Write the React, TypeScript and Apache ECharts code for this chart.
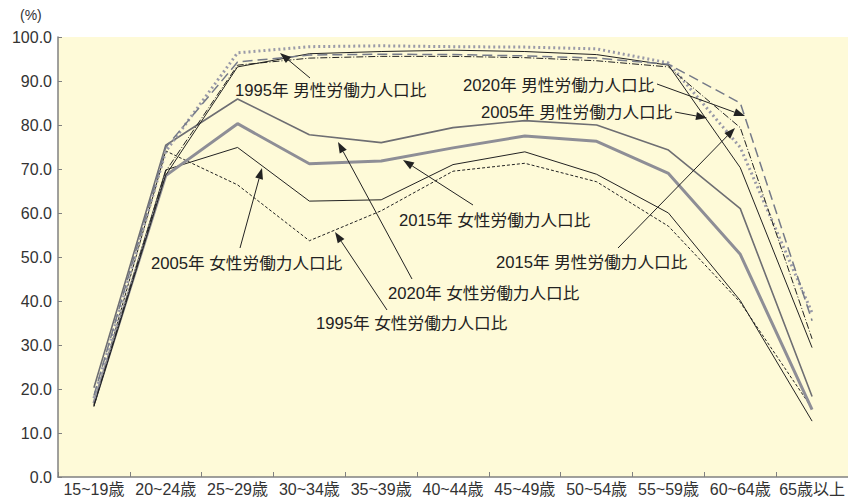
import React, { useEffect, useRef } from "react";
import * as echarts from "echarts";

const categories = ["15~19歳", "20~24歳", "25~29歳", "30~34歳", "35~39歳", "40~44歳", "45~49歳", "50~54歳", "55~59歳", "60~64歳", "65歳以上"];

const male1995 = [17.9, 74.0, 96.4, 97.8, 98.0, 97.8, 97.7, 97.3, 94.1, 74.9, 37.3];
const male2005 = [16.1, 68.6, 93.2, 96.2, 96.7, 97.0, 96.7, 96.0, 93.6, 70.3, 29.4];
const male2015 = [16.3, 69.5, 93.6, 95.2, 95.6, 95.6, 95.3, 94.6, 93.2, 79.4, 31.4];
const male2020 = [18.5, 74.9, 94.3, 95.9, 96.1, 96.0, 95.7, 95.2, 93.8, 85.0, 35.5];
const female1995 = [16.0, 74.1, 66.4, 53.7, 60.5, 69.5, 71.3, 67.1, 57.0, 39.7, 15.6];
const female2005 = [16.5, 69.8, 74.9, 62.7, 63.0, 71.0, 73.9, 68.8, 60.0, 40.1, 12.7];
const female2015 = [16.8, 68.5, 80.3, 71.2, 71.8, 74.8, 77.5, 76.3, 69.0, 50.6, 15.3];
const female2020 = [20.3, 75.4, 85.9, 77.8, 76.0, 79.4, 81.0, 80.0, 74.3, 61.0, 18.3];

const yTicks = [0, 10, 20, 30, 40, 50, 60, 70, 80, 90, 100];

const FONT = "'Liberation Sans', 'Noto Sans CJK JP', sans-serif";

const annotations = [
  { text: "1995年 男性労働力人口比", x: 235, y: 90, from: [310, 78], to: [280, 53] },
  { text: "2020年 男性労働力人口比", x: 463, y: 85, from: [657, 84], to: [745, 116] },
  { text: "2005年 男性労働力人口比", x: 481, y: 112, from: [675, 112], to: [707, 118] },
  { text: "2015年 女性労働力人口比", x: 399, y: 220, from: [473, 205], to: [403, 160] },
  { text: "2015年 男性労働力人口比", x: 496, y: 262, from: [618, 248], to: [735, 128] },
  { text: "2020年 女性労働力人口比", x: 388, y: 293, from: [412, 279], to: [338, 142] },
  { text: "1995年 女性労働力人口比", x: 316, y: 323, from: [387, 310], to: [335, 232] },
  { text: "2005年 女性労働力人口比", x: 151, y: 263, from: [240, 248], to: [262, 168] },
];

function arrow(from: number[], to: number[]) {
  const [x1, y1] = from;
  const [x2, y2] = to;
  const dx = x2 - x1;
  const dy = y2 - y1;
  const len = Math.sqrt(dx * dx + dy * dy);
  const ux = dx / len;
  const uy = dy / len;
  const hl = 11;
  const hw = 4;
  const bx = x2 - ux * hl;
  const by = y2 - uy * hl;
  return [
    {
      type: "line",
      shape: { x1, y1, x2: bx, y2: by },
      style: { stroke: "#222", lineWidth: 1 },
      z: 100,
    },
    {
      type: "polygon",
      shape: {
        points: [
          [x2, y2],
          [bx - uy * hw, by + ux * hw],
          [bx + uy * hw, by - ux * hw],
        ],
      },
      style: { fill: "#222" },
      z: 100,
    },
  ];
}

function mkLine(name: string, data: number[], lineStyle: any, z = 2) {
  return {
    name,
    type: "line",
    data,
    symbol: "none",
    lineStyle,
    z,
  };
}

export default function App() {
  const ref = useRef<HTMLDivElement>(null);
  useEffect(() => {
    if (!ref.current) return;
    const chart = echarts.init(ref.current, null, { renderer: "svg" });
    const graphics: any[] = [
      {
        type: "text",
        x: 20,
        y: 15,
        style: { text: "(%)", fontSize: 14, fontFamily: FONT, fill: "#333", verticalAlign: "middle" },
      },
    ];
    annotations.forEach((a) => {
      graphics.push({
        type: "text",
        x: a.x,
        y: a.y,
        scaleX: 1.04,
        z: 100,
        style: { text: a.text, fontSize: 16, fontFamily: FONT, fill: "#222", verticalAlign: "middle" },
      });
      arrow(a.from, a.to).forEach((g) => graphics.push(g));
    });
    chart.setOption({
      animation: false,
      backgroundColor: "#ffffff",
      grid: {
        left: 58,
        top: 37,
        width: 793,
        height: 440,
        show: true,
        backgroundColor: "#FEFAD8",
        borderWidth: 0,
      },
      xAxis: {
        type: "category",
        data: categories,
        boundaryGap: true,
        axisLine: { lineStyle: { color: "#808080", width: 1.5 } },
        axisTick: { show: true, inside: true, length: 5, lineStyle: { color: "#808080" } },
        axisLabel: { color: "#333", fontSize: 16, lineHeight: 16, fontFamily: FONT, margin: 4, interval: 0 },
      },
      yAxis: {
        type: "value",
        min: yTicks[0],
        max: yTicks[yTicks.length - 1],
        interval: 10,
        axisLine: { show: true, lineStyle: { color: "#808080", width: 1.5 } },
        axisTick: { show: true, inside: true, length: 4, lineStyle: { color: "#808080" } },
        splitLine: { show: false },
        axisLabel: {
          color: "#333",
          fontSize: 16,
          lineHeight: 16,
          fontFamily: FONT,
          margin: 6,
          formatter: (v: number) => v.toFixed(1),
        },
      },
      series: [
        mkLine("1995年 女性", female1995, { color: "#222", width: 1, type: [3, 2] }),
        mkLine("2005年 女性", female2005, { color: "#222", width: 1 }),
        mkLine("2015年 女性", female2015, { color: "#8e8e96", width: 3 }),
        mkLine("2020年 女性", female2020, { color: "#6e6e72", width: 1.6 }),
        mkLine("1995年 男性", male1995, { color: "#9a9aa8", width: 3, type: [2, 3] }),
        mkLine("2005年 男性", male2005, { color: "#222", width: 1 }),
        mkLine("2015年 男性", male2015, { color: "#222", width: 1, type: [7, 2, 1, 2] }),
        mkLine("2020年 男性", male2020, { color: "#757a88", width: 1.5, type: [10, 5] }),
      ],
      graphic: graphics,
    });
    return () => chart.dispose();
  }, []);
  return <div ref={ref} style={{ width: 848, height: 497, position: "absolute", left: 0, top: 0 }} />;
}
